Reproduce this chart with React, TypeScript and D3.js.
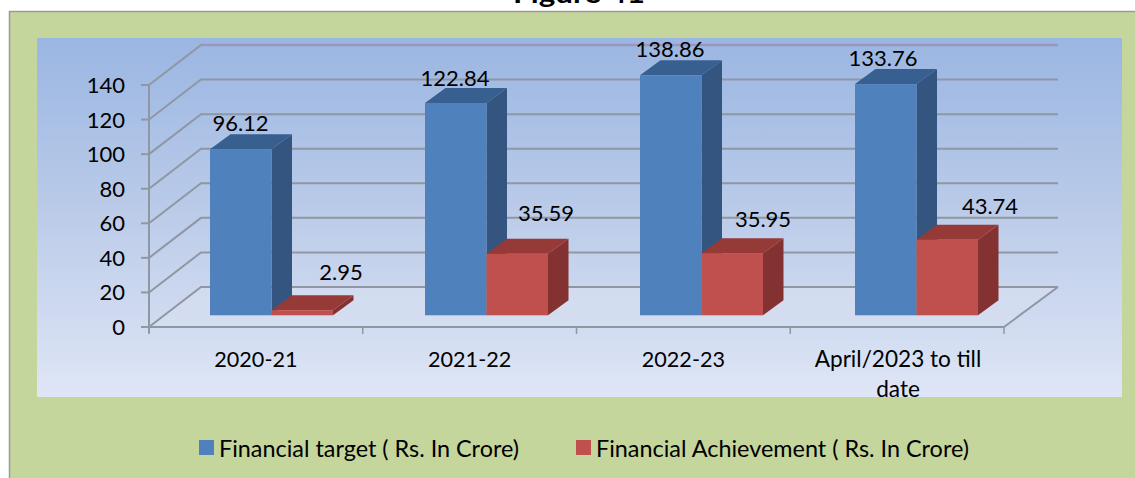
import React from "react";
import * as d3 from "d3";

const categories = ["2020-21", "2021-22", "2022-23", "April/2023 to till date"];
const categoryLines = [["2020-21"], ["2021-22"], ["2022-23"], ["April/2023 to till", "date"]];
const target = [96.12, 122.84, 138.86, 133.76];
const achievement = [2.95, 35.59, 35.95, 43.74];
const yTicks = [0, 20, 40, 60, 80, 100, 120, 140];
const seriesNames = ["Financial target ( Rs. In Crore)", "Financial Achievement ( Rs. In Crore)"];
const font = "Lato, Carlito, sans-serif";

const W = 1135, H = 478;
const y = d3.scaleLinear().domain([0, 140]).range([327, 85]);
const xFront = d3.scaleLinear().domain([0, 4]).range([149, 1004]);
const barStart = d3.scaleLinear().domain([0, 3]).range([210, 855]);
const depthX = 52, depthY = 40;
const barW = 61.5, barDX = 20.5, barDY = 15, barBaseOffset = 11.7;
const grid = "#8f97a3";

const path = d3.line();

function Bar({ x, v, front, side, top }: { x: number; v: number; front: string; side: string; top: string }) {
  const y0 = y(0) - barBaseOffset;
  const y1 = y(v) - barBaseOffset;
  return (
    <g>
      <path d={path([[x + barW, y1], [x + barW + barDX, y1 - barDY], [x + barW + barDX, y0 - barDY], [x + barW, y0]])!} fill={side} />
      <path d={path([[x, y1], [x + barDX, y1 - barDY], [x + barW + barDX, y1 - barDY], [x + barW, y1]])!} fill={top} />
      <rect x={x} y={y1} width={barW} height={y0 - y1} fill={front} />
    </g>
  );
}

const labelPos = [
  [[240.5, 131], [341, 280]],
  [[455, 86], [546, 221]],
  [[670, 57], [763, 227]],
  [[883, 66], [990, 214]],
];

export default function App() {
  return (
    <svg width={W} height={H} viewBox={`0 0 ${W} ${H}`} style={{ position: "absolute", left: 0, top: 0, display: "block" }} fontFamily={font}>
      <defs>
        <linearGradient id="bg" x1="0" y1="0" x2="0" y2="1">
          <stop offset="0" stopColor="#9ab6e2" />
          <stop offset="0.5" stopColor="#bccce9" />
          <stop offset="1" stopColor="#dfe6f6" />
        </linearGradient>
      </defs>
      <rect width={W} height={H} fill="#ffffff" />
      <text x={579} y={2.5} textAnchor="middle" fontSize={26} fontWeight={700} fill="#000" textLength={132} lengthAdjust="spacingAndGlyphs">Figure 41</text>
      <rect x={9.5} y={11.5} width={W + 10} height={H} fill="#c4d69b" stroke="#9a9a9a" strokeWidth={1.5} />
      <rect x={37} y={38} width={1085} height={359} fill="url(#bg)" />
      {/* floor */}
      <path d={path([[149, 327], [1004, 327], [1004 + depthX + 2, 327 - depthY], [149 + depthX, 327 - depthY]])!} fill="#d9e0f1" opacity={0.55} />
      {/* walls */}
      {yTicks.map((t) => (
        <path key={t} d={path([[149, y(t)], [149 + depthX, y(t) - depthY], [1058, y(t) - depthY]])!} stroke={grid} strokeWidth={2} fill="none" />
      ))}
      <line x1={201} x2={1058} y1={45} y2={45} stroke="#9a96bd" strokeWidth={2.6} />
      <path d={path([[1004, 327], [1058, 287]])!} stroke={grid} strokeWidth={2} fill="none" />
      {/* axes */}
      <line x1={149} x2={149} y1={y(140)} y2={y(0) + 6} stroke={grid} strokeWidth={2} />
      <line x1={149} x2={1004} y1={y(0)} y2={y(0)} stroke={grid} strokeWidth={2} />
      {yTicks.map((t) => (
        <g key={t}>
          <line x1={141} x2={149} y1={y(t)} y2={y(t)} stroke={grid} strokeWidth={2} />
          <text x={125} y={y(t) + 8} textAnchor="end" fontSize={22} fill="#000">{t}</text>
        </g>
      ))}
      {d3.range(5).map((i) => (
        <line key={i} x1={xFront(i)} x2={xFront(i)} y1={y(0)} y2={y(0) + 7} stroke={grid} strokeWidth={1.5} />
      ))}
      {categories.map((c, i) => (
        <g key={c}>
          <Bar x={barStart(i)} v={target[i]} front="#4f81bd" side="#33557f" top="#375f8f" />
          <Bar x={barStart(i) + barW} v={achievement[i]} front="#c0504d" side="#843231" top="#963a37" />
        </g>
      ))}
      {categories.map((c, i) => (
        <g key={c} fill="#000">
          <text fontSize={22} x={labelPos[i][0][0]} y={labelPos[i][0][1]} textAnchor="middle">{target[i]}</text>
          <text fontSize={22} x={labelPos[i][1][0]} y={labelPos[i][1][1]} textAnchor="middle">{achievement[i]}</text>
          {categoryLines[i].map((l, j) => (
            <text key={l} fontSize={i === 3 ? 22.6 : 21.6} x={i === 3 ? 898 : (xFront(i) + xFront(i + 1)) / 2} y={367 + j * 29.5} textAnchor="middle">{l}</text>
          ))}
        </g>
      ))}
      {/* legend */}
      <rect x={199} y={440} width={15} height={15} fill="#4f81bd" />
      <text x={219} y={457} fontSize={23} fill="#000" textLength={300} lengthAdjust="spacingAndGlyphs">{seriesNames[0]}</text>
      <rect x={576} y={440} width={15} height={15} fill="#c0504d" />
      <text x={596} y={457} fontSize={23} fill="#000" textLength={373} lengthAdjust="spacingAndGlyphs">{seriesNames[1]}</text>
    </svg>
  );
}
